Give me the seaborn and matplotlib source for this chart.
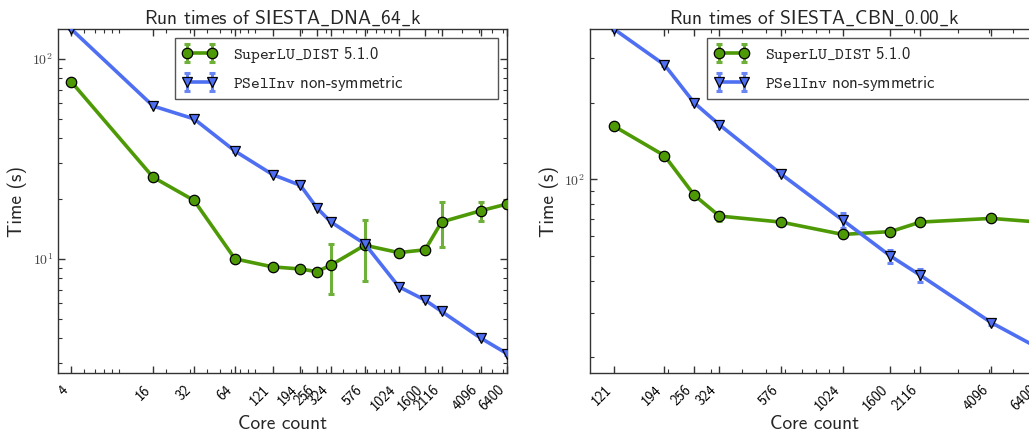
import math
import matplotlib
matplotlib.use("Agg")
import matplotlib.pyplot as plt
import matplotlib.ticker as mticker
from matplotlib.container import ErrorbarContainer
from matplotlib.legend_handler import HandlerErrorbar
import seaborn as sns

# SIESTA_DNA_64_k
dna_cores = [4, 16, 32, 64, 121, 194, 256, 324, 576, 1024, 1600, 2116, 4096, 6400]
dna_superlu = [76.9, 25.6, 19.6, 10.0, 9.12, 8.9, 8.63, 9.3, 11.7, 10.75, 11.1, 15.3, 17.4, 18.8]
dna_superlu_err = [0.3, 0.2, 0.2, 0.1, 0.1, 0.1, 0.3, 2.6, 3.95, 0.2, 0.3, 3.9, 1.85, 0.8]
dna_pselinv = [141, 58.1, 50.1, 34.6, 26.4, 23.3, 18.0, 15.3, 11.9, 7.26, 6.22, 5.46, 4.02, 3.36]
dna_pselinv_err = [0.5, 0.3, 0.3, 0.2, 0.2, 0.2, 0.1, 0.1, 0.1, 0.05, 0.05, 0.05, 0.05, 0.05]

# SIESTA_CBN_0.00_k
cbn_cores = [121, 194, 256, 324, 576, 1024, 1600, 2116, 4096, 6400]
cbn_superlu = [162, 124, 86.8, 71.8, 68.0, 60.8, 62.4, 68.0, 70.3, 68.0]
cbn_superlu_err = [1.0, 1.0, 1.5, 3.0, 1.0, 1.0, 1.0, 1.0, 1.0, 1.0]
cbn_pselinv = [390, 282, 200, 164, 105, 69.2, 50.0, 42.0, 27.4, 21.7]
cbn_pselinv_err = [2.0, 2.0, 2.0, 1.5, 1.0, 4.5, 3.0, 2.3, 0.6, 0.5]

labels = [r"$\mathtt{SuperLU\_DIST}$ 5.1.0", r"$\mathtt{PSelInv}$ non-symmetric"]
green, green_err = "#4e9a06", "#6fb03a"
blue, blue_err = "#4f6ff2", "#6a86f5"

sns.set_style("ticks")
plt.rcParams["font.family"] = ["cmss10", "DejaVu Sans"]
plt.rcParams["mathtext.fontset"] = "cm"
plt.rcParams["axes.unicode_minus"] = False
plt.rcParams["axes.formatter.use_mathtext"] = True

fig = plt.figure(figsize=(10.29, 4.34), dpi=100)
ax1 = fig.add_axes([58 / 1029, 61 / 434, 449 / 1029, 344 / 434])
ax2 = fig.add_axes([590 / 1029, 61 / 434, 449 / 1029, 344 / 434])


def draw_series(ax, x, y, err, color, ecolor, marker):
    sns.lineplot(x=x, y=y, ax=ax, color=color, marker=marker, markersize=7.5,
                 markeredgecolor="black", markeredgewidth=0.9, linewidth=2.6,
                 markerfacecolor=color, legend=False, zorder=3)
    line = ax.get_lines()[-1]
    eb = ax.errorbar(x, y, yerr=err, fmt="none", ecolor=ecolor, elinewidth=2.2,
                     capsize=2.4, capthick=2.2, zorder=2)
    return ErrorbarContainer((line, eb.lines[1], eb.lines[2]), has_xerr=False, has_yerr=True)


panels = [
    (ax1, "Run times of SIESTA$\\mathtt{\\_}$DNA$\\mathtt{\\_}$64$\\mathtt{\\_}$k",
     dna_cores, dna_superlu, dna_superlu_err, dna_pselinv, dna_pselinv_err),
    (ax2, "Run times of SIESTA$\\mathtt{\\_}$CBN$\\mathtt{\\_}$0.00$\\mathtt{\\_}$k",
     cbn_cores, cbn_superlu, cbn_superlu_err, cbn_pselinv, cbn_pselinv_err),
]

for ax, title, cores, slu, slu_err, psi, psi_err in panels:
    ax.set_xscale("log")
    ax.set_yscale("log")
    h1 = draw_series(ax, cores, slu, slu_err, green, green_err, "o")
    h2 = draw_series(ax, cores, psi, psi_err, blue, blue_err, "v")

    ax.set_xlim(0.8 * cores[0], cores[-1])
    ax.set_ylim(0.8 * min(psi), max(psi))

    ax.xaxis.set_major_locator(mticker.FixedLocator(cores))
    ax.xaxis.set_major_formatter(mticker.FixedFormatter([str(c) for c in cores]))
    ax.xaxis.set_minor_locator(mticker.LogLocator(subs=range(2, 10)))
    ax.xaxis.set_minor_formatter(mticker.NullFormatter())
    ax.yaxis.set_major_formatter(mticker.FuncFormatter(
        lambda v, p: r"$10^{%d}$" % round(math.log10(v))))
    ax.yaxis.set_minor_formatter(mticker.NullFormatter())

    ax.tick_params(which="both", direction="in", top=True, right=True, colors="#333333")
    ax.tick_params(which="major", length=5, width=1)
    ax.tick_params(which="minor", length=3, width=0.8)
    ax.tick_params(axis="y", labelsize=10, labelcolor="#444444")
    ax.tick_params(axis="x", labelsize=10.5, labelcolor="black", pad=7)
    plt.setp(ax.get_xticklabels(), rotation=45, ha="right")
    for s in ax.spines.values():
        s.set_color("#333333")
        s.set_linewidth(1.0)

    ax.set_title(title, fontsize=14, pad=4)
    ax.set_xlabel("Core count", fontsize=14, labelpad=1)
    ax.set_ylabel("Time (s)", fontsize=14)

    leg = ax.legend(handles=[h1, h2], labels=labels, numpoints=2, fontsize=12,
                    loc="upper left", bbox_to_anchor=(0.2606, 0.0, 0.7194, 0.974),
                    mode="expand", borderaxespad=0, fancybox=False, framealpha=1,
                    edgecolor="#555555", labelspacing=0.55, handlelength=2.1,
                    handletextpad=1.0,
                    handler_map={ErrorbarContainer: HandlerErrorbar(yerr_size=0.55)})
    leg.get_frame().set_linewidth(1.0)

fig.savefig("out.png", dpi=100)
